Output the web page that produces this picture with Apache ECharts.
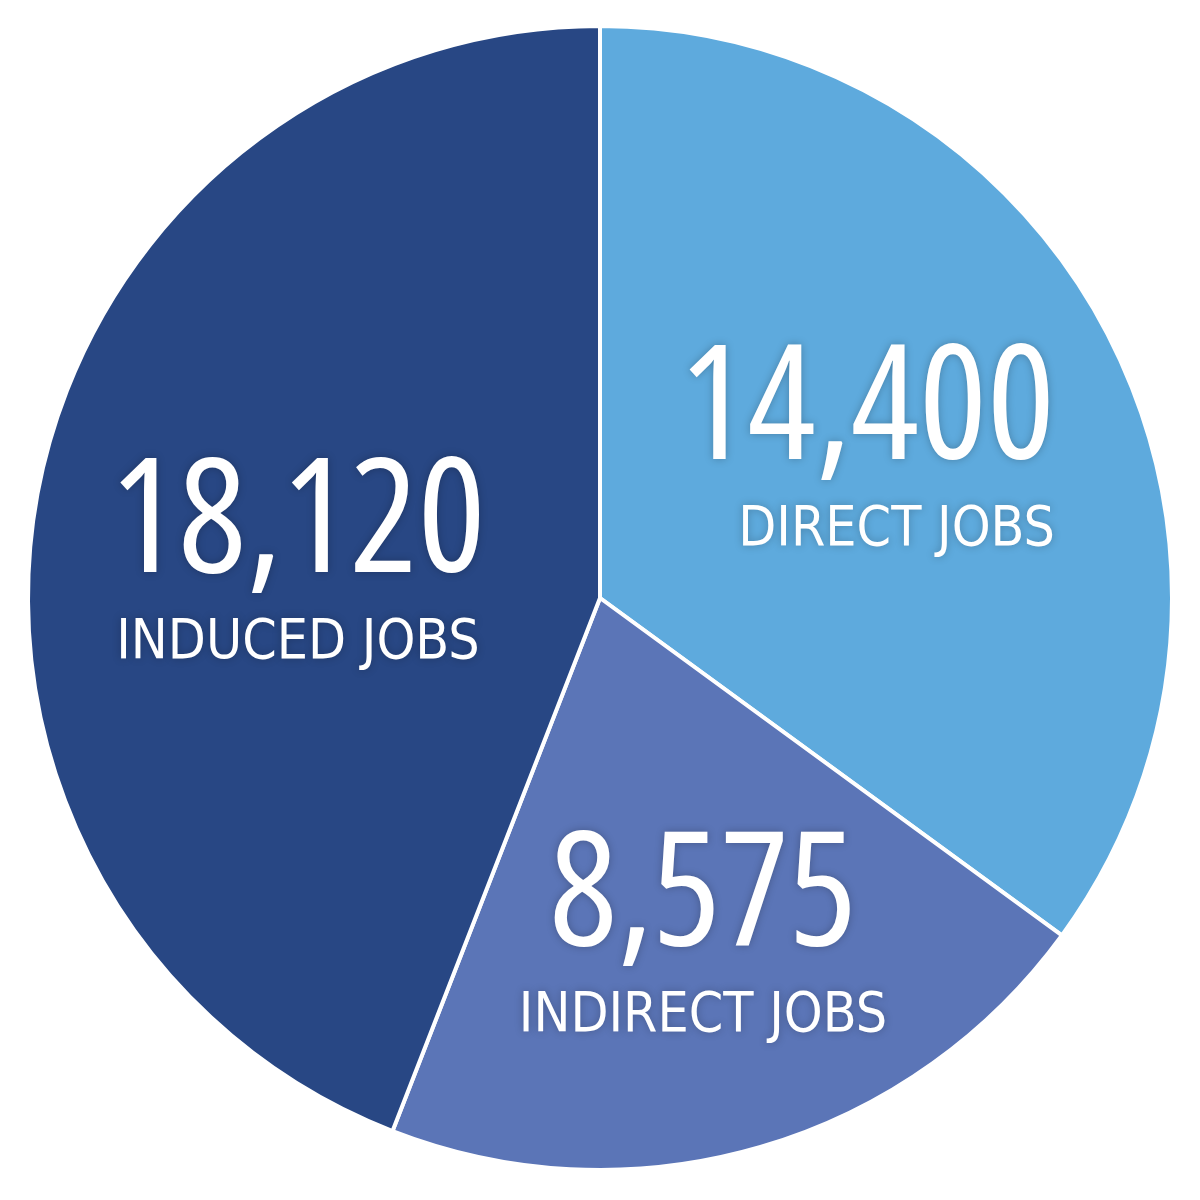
<!DOCTYPE html>
<html>
<head>
<meta charset="utf-8">
<script src="https://cdn.jsdelivr.net/npm/echarts@6/dist/echarts.min.js"></script>
<style>html,body{margin:0;padding:0;background:#fff;}#c{width:1200px;height:1200px;}</style>
</head>
<body>
<div id="c"></div>
<script>
const categories = ['DIRECT JOBS', 'INDIRECT JOBS', 'INDUCED JOBS'];
const values = [14400, 8575, 18120];
const colors = ['#5EAADD', '#5B75B7', '#284784'];

const cv = document.createElement('canvas').getContext('2d');
function usable(wt, fam) {
  cv.font = '10px serif';
  cv.font = wt + ' 100px ' + fam;
  return cv.font !== '10px serif';
}
// big numbers: narrowest condensed face available (reference uses a condensed DIN-like face)
const bigCands = [
  ["'Open Sans'", '500 condensed'],
  ["'Noto Sans'", '500 condensed'],
  ["'DejaVu Sans Condensed'", 'normal'],
  ["'DejaVu Sans'", 'normal']
];
let big = null;
for (const [fam, wt] of bigCands) {
  if (!usable(wt, fam)) continue;
  const m = cv.measureText('14,400');
  const ratio = m.width / m.actualBoundingBoxAscent;
  if (!big || ratio < big.ratio - 0.01) big = {fam, wt, ratio, h100: m.actualBoundingBoxAscent};
}
// small captions: face whose width/cap-height best matches the reference captions
const capTargets = [['DIRECT JOBS', 307 / 43], ['INDIRECT JOBS', 362 / 43], ['INDUCED JOBS', 353 / 42]];
const smallCands = [
  ["'Open Sans'", '500 condensed'],
  ["'Open Sans'", '500 semi-condensed'],
  ["'Open Sans'", '500'],
  ["Roboto", '500'],
  ["'Noto Sans'", '500'],
  ["Inter", '500'],
  ["Lato", 'bold'],
  ["'DejaVu Sans Condensed'", 'normal']
];
let small = null;
for (const [fam, wt] of smallCands) {
  if (!usable(wt, fam)) continue;
  const h = cv.measureText('DIRECT').actualBoundingBoxAscent;
  let err = 0;
  for (const [t, r] of capTargets) {
    const d = cv.measureText(t).width / h - r;
    err += d * d;
  }
  if (!small || err < small.err) small = {fam, wt, err, h100: h};
}
const bigSize = Math.round(117 / big.h100 * 100);
const smallSize = Math.round(41.5 / small.h100 * 100);

const labelAnchors = [
  {x: 1055, y: 448, align: 'right'},
  {x: 703, y: 934, align: 'center'},
  {x: 298, y: 561, align: 'center'}
];

const chart = echarts.init(document.getElementById('c'), null, {renderer: 'canvas'});
chart.setOption({
  backgroundColor: '#ffffff',
  animation: false,
  series: [{
    type: 'pie',
    center: [600, 598],
    radius: [0, 572],
    startAngle: 90,
    clockwise: true,
    avoidLabelOverlap: false,
    itemStyle: {borderColor: '#ffffff', borderWidth: 4},
    emphasis: {disabled: true},
    data: categories.map((c, i) => ({
      name: c, value: values[i], itemStyle: {color: colors[i]}
    })),
    label: {
      show: true,
      position: 'inside',
      formatter: p => '{a|' + echarts.format.addCommas(p.value) + '}\n{b|' + p.name + '}',
      color: '#ffffff',
      rich: {
        a: {fontFamily: big.fam + ', sans-serif', fontWeight: big.wt, fontSize: bigSize, lineHeight: 166, color: '#ffffff',
            textShadowColor: 'rgba(0,0,0,0.25)', textShadowBlur: 8},
        b: {fontFamily: small.fam + ', sans-serif', fontWeight: small.wt, fontSize: smallSize, lineHeight: 70, color: '#ffffff',
            textShadowColor: 'rgba(0,0,0,0.25)', textShadowBlur: 8}
      }
    },
    labelLine: {show: false},
    labelLayout: function (params) {
      const a = labelAnchors[params.dataIndex];
      return {x: a.x, y: a.y, align: a.align, verticalAlign: 'middle'};
    }
  }]
});
</script>
</body>
</html>
